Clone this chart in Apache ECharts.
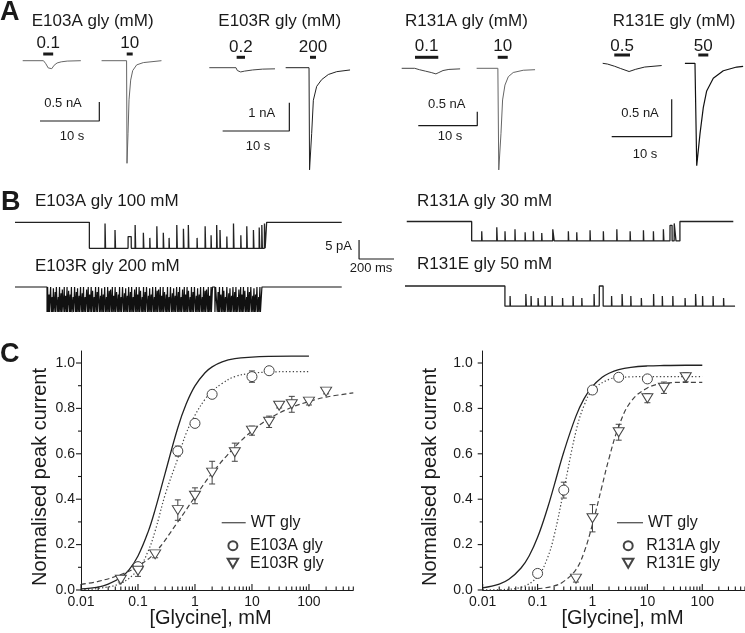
<!DOCTYPE html>
<html><head><meta charset="utf-8">
<script src="https://cdn.jsdelivr.net/npm/echarts@6/dist/echarts.min.js"></script>
<style>html,body{margin:0;padding:0;background:#fff}#c{width:745px;height:633px}</style>
</head><body><div id="c"></div>
<script>
// ================= DATA =================
// ---- Panel A: whole-cell currents (time in s, current in nA) ----
const aE103A_low  = [[0,0],[3.5,0],[3.9,-0.08],[4.3,-0.19],[4.6,-0.23],[4.9,-0.21],[5.3,-0.12],[5.8,-0.06],[6.5,-0.03],[7.5,-0.01],[9.8,0]];
const aE103A_high = [[13.3,0],[17.52,0],[17.59,-2.7],[17.76,-1.91],[17.93,-1.03],[18.21,-0.51],[18.55,-0.26],[19.22,-0.11],[20.34,-0.05],[23.4,0]];
const aE103R_low  = [[0,0],[4.0,0],[4.2,-0.1],[4.4,-0.16],[4.7,-0.15],[5.3,-0.12],[6.5,-0.08],[8,-0.05],[9.85,-0.04]];
const aE103R_high = [[11.45,0],[14.95,0],[15.03,-3.61],[15.35,-2.32],[15.6,-1.15],[16.1,-0.66],[16.85,-0.42],[17.85,-0.24],[19.1,-0.14],[21.1,-0.08]];
const aR131A_low  = [[0,0],[2.2,0],[3,-0.05],[4,-0.1],[5,-0.15],[5.8,-0.2],[6.3,-0.15],[7,-0.08],[8,-0.04],[9.9,-0.02]];
const aR131A_high = [[12.7,0],[16.3,0],[16.45,-3.63],[16.83,-2.32],[17.1,-1.13],[17.5,-0.6],[18.07,-0.3],[18.9,-0.15],[20.6,-0.07],[22.6,-0.05]];
const aR131E_low  = [[0,0],[0.8,-0.01],[2,-0.04],[3,-0.07],[4.4,-0.11],[5.5,-0.08],[7,-0.05],[9.83,-0.03]];
const aR131E_high = [[13.7,0],[15.38,0],[15.67,-1.37],[16.22,-0.94],[16.77,-0.59],[17.33,-0.37],[18.43,-0.2],[20.1,-0.1],[22.33,-0.05],[23.4,-0.04]];
// glycine application periods [start s, end s] and their labels (mM)
const appE103A = [[3.46,5.14],[17.54,18.55]]; const appE103A_lab = ['0.1','10'];
const appE103R = [[4.1,5.35],[15.1,16.0]];    const appE103R_lab = ['0.2','200'];
const appR131A = [[2.25,6.2],[16.27,17.97]];  const appR131A_lab = ['0.1','10'];
const appR131E = [[1.93,4.55],[15.93,17.6]];  const appR131E_lab = ['0.5','50'];
// scale bars [s, nA]
const sbE103A = [10, 0.5]; const sbE103R = [10, 1]; const sbR131A = [10, 0.5]; const sbR131E = [10, 0.5];

// ---- Panel B: single-channel records (time ms, current pA) ----
// [start, opening, closing, end, open amplitude]
const bE103A_ev = [0, 425, 1438, 1867, -6.84];
const bE103R_ev = [0, 183, 1411, 1867, -6.6];
const bR131A_ev = [10, 381, 1571, 1876, -5.1];
const bR131E_ev = [0, 571, 1886, 1886, -5.3];
// brief closures inside the bursts: [time ms, duration ms, fraction closed]
const bE103A_cl = [[514,3,0.95],[571,3,0.7],[646,18,0.45],[686,3,0.9],[733,3,0.6],[770,2,0.4],[810,3,0.85],[847,3,0.6],[880,2,0.4],[924,3,0.9],[962,3,0.75],[990,3,0.9],[1040,2,0.4],[1086,3,0.85],[1120,2,0.5],[1152,3,0.9],[1171,3,0.7],[1210,2,0.45],[1248,3,0.95],[1290,2,0.5],[1324,3,0.85],[1362,3,0.7],[1395,3,0.8],[1410,3,0.9],[1425,4,0.95]];
const bE103R_cl = [[186,3,1],[194,2,0.7],[203,4,1],[212,2,0.6],[219,3,0.95],[229,2,0.8],[236,5,1],[247,2,0.6],[254,3,1],[263,2,0.75],[270,4,0.9],[281,2,1],[289,3,0.65],[297,2,1],[306,4,0.85],[315,2,0.7],[322,3,1],[332,2,0.6],[340,5,1],[350,2,0.8],[357,3,0.95],[366,2,0.65],[374,4,1],[384,2,0.75],[391,3,1],[400,2,0.6],[409,4,0.9],[418,2,1],[426,3,0.7],[435,2,1],[443,4,0.85],[452,2,0.6],[460,3,1],[469,2,0.8],[477,5,1],[488,2,0.65],[495,3,0.95],[504,2,0.7],[512,4,1],[522,2,0.6],[529,3,1],[538,2,0.85],[546,4,0.9],[556,2,1],[563,3,0.65],[572,2,1],[580,4,0.8],[590,2,0.7],[597,3,1],[606,2,0.6],[614,5,1],[625,2,0.75],[632,3,0.95],[641,2,0.65],[649,4,1],[659,2,0.8],[666,3,1],[675,2,0.6],[683,4,0.9],[693,2,1],[700,3,0.7],[709,2,1],[717,4,0.85],[727,2,0.6],[734,3,1],[743,2,0.8],[751,5,1],[762,2,0.65],[769,3,0.95],[778,2,0.7],[786,4,1],[796,2,0.6],[803,3,1],[812,2,0.85],[820,4,0.9],[830,2,1],[837,3,0.65],[846,2,1],[854,4,0.8],[864,2,0.7],[871,3,1],[880,2,0.6],[888,5,1],[899,2,0.75],[906,3,0.95],[915,2,0.65],[923,4,1],[933,2,0.8],[940,3,1],[949,2,0.6],[957,4,0.9],[967,2,1],[974,3,0.7],[983,2,1],[991,4,0.85],[1001,2,0.6],[1008,3,1],[1017,2,0.8],[1025,5,1],[1036,2,0.65],[1043,3,0.95],[1052,2,0.7],[1060,4,1],[1070,2,0.6],[1077,3,1],[1086,2,0.85],[1094,4,0.9],[1104,2,1],[1111,3,0.65],[1120,2,1],[1128,14,1],[1146,9,1],[1160,3,0.8],[1168,2,1],[1176,4,0.7],[1186,2,1],[1193,3,0.85],[1202,2,0.6],[1210,5,1],[1221,2,0.75],[1228,3,0.95],[1237,2,0.65],[1245,4,1],[1255,2,0.8],[1262,3,1],[1271,2,0.6],[1279,4,0.9],[1289,2,1],[1296,3,0.7],[1305,2,1],[1313,4,0.85],[1323,2,0.6],[1330,3,1],[1339,2,0.8],[1347,5,1],[1358,2,0.65],[1365,3,0.95],[1374,2,0.7],[1382,4,1],[1392,2,0.6],[1399,3,1]];
const bR131A_cl = [[438,2,0.5],[524,3,0.7],[571,2,0.5],[628,2,0.6],[686,2,0.45],[733,2,0.5],[781,2,0.4],[844,8,0.6],[933,2,0.5],[981,2,0.45],[1057,2,0.55],[1133,2,0.5],[1210,2,0.6],[1286,2,0.5],[1362,2,0.55],[1419,2,0.5],[1476,3,0.6],[1514,12,0.8],[1538,10,0.9]];
const bR131E_cl = [[600,2,0.5],[690,3,0.6],[720,2,0.5],[760,3,0.4],[800,2,0.5],[840,2,0.5],[900,2,0.4],[960,2,0.5],[1010,2,0.4],[1080,2,0.6],[1110,22,1.0],[1180,2,0.5],[1240,3,0.6],[1290,2,0.5],[1350,2,0.4],[1420,2,0.6],[1470,2,0.5],[1530,2,0.5],[1600,2,0.4],[1660,3,0.6],[1700,2,0.5],[1760,2,0.5],[1820,2,0.4]];
const sbB = [200, 5]; // ms, pA

// ---- Panel C: dose-response (glycine mM, normalised peak current) ----
const concE103A = [0.1, 0.5, 1, 2, 10, 20];
const respE103A = [0.103, 0.612, 0.734, 0.862, 0.94, 0.966];
const semE103A  = [0.015, 0.022, 0.01, 0.01, 0.025, 0.01];
const concE103R = [0.05, 0.1, 0.2, 0.5, 1, 2, 5, 10, 20, 30, 50, 100, 200];
const respE103R = [0.045, 0.085, 0.157, 0.352, 0.415, 0.517, 0.607, 0.702, 0.741, 0.812, 0.818, 0.83, 0.874];
const semE103R  = [0.01, 0.025, 0.015, 0.045, 0.035, 0.05, 0.04, 0.02, 0.025, 0.01, 0.035, 0.015, 0.01];
const concR131A = [0.1, 0.3, 1, 3, 10];
const respR131A = [0.073, 0.44, 0.881, 0.937, 0.93];
const semR131A  = [0.005, 0.035, 0.015, 0.01, 0.01];
const concR131E = [0.5, 1, 3, 10, 20, 50];
const respR131E = [0.05, 0.316, 0.695, 0.845, 0.891, 0.937];
const semR131E  = [0.015, 0.06, 0.035, 0.02, 0.025, 0.02];
// fitted curves
const fitWT_L_x = [0.01,0.02,0.03,0.05,0.07,0.1,0.15,0.2,0.3,0.5,0.7,1,1.5,2,3,5,10,20,50,100];
const fitWT_L_y = [0.005,0.013,0.026,0.055,0.09,0.15,0.255,0.354,0.515,0.715,0.819,0.899,0.957,0.983,1.005,1.019,1.026,1.029,1.03,1.03];
const fitE103A_x = [0.01,0.02,0.05,0.1,0.15,0.2,0.3,0.5,0.7,1,1.5,2,3,5,10,20,50,100];
const fitE103A_y = [0.002,0.007,0.03,0.09,0.17,0.26,0.42,0.58,0.69,0.77,0.84,0.875,0.91,0.94,0.955,0.96,0.962,0.962];
const fitE103R_x = [0.01,0.02,0.05,0.1,0.2,0.5,1,2,5,10,20,50,100,200,600];
const fitE103R_y = [0.025,0.038,0.068,0.105,0.165,0.30,0.41,0.515,0.63,0.70,0.755,0.805,0.83,0.85,0.868];
const fitWT_R_x = [0.01,0.02,0.03,0.05,0.07,0.1,0.15,0.2,0.3,0.5,0.7,1,1.5,2,3,5,10,20,50,100];
const fitWT_R_y = [0.0095,0.026,0.047,0.097,0.15,0.232,0.357,0.46,0.608,0.766,0.842,0.897,0.937,0.955,0.971,0.981,0.987,0.989,0.99,0.99];
const fitR131A_x = [0.01,0.02,0.05,0.1,0.15,0.2,0.3,0.5,0.7,1,2,3,5,10,100];
const fitR131A_y = [0.0003,0.0016,0.012,0.059,0.139,0.239,0.44,0.699,0.812,0.88,0.928,0.935,0.939,0.94,0.94];
const fitR131E_x = [0.1,0.2,0.3,0.5,0.7,1,1.5,2,3,5,10,20,50,100];
const fitR131E_y = [0.005,0.018,0.038,0.09,0.165,0.29,0.46,0.58,0.72,0.83,0.89,0.91,0.915,0.915];
// axis ticks
const xTickVals = [0.01, 0.1, 1, 10, 100];
const xTickLabels = ['0.01', '0.1', '1', '10', '100'];
const xMax = 600;
const yMax = 1.053;
const yTickVals = [0, 0.2, 0.4, 0.6, 0.8, 1.0];
const yTickLabels = ['0.0', '0.2', '0.4', '0.6', '0.8', '1.0'];
const yMinorVals = [0.1, 0.3, 0.5, 0.7, 0.9];

// ================= BUILD =================
const FONT = "'Liberation Sans', Arial, Helvetica, sans-serif";
const INK = '#1a1a1a';
const TRACE = '#444';
const grids = [], xAxes = [], yAxes = [], series = [], graphics = [];

function traceGrid(L, right, top, bottom, y0, pxs, pxa) {
  const gi = grids.length;
  grids.push({left: L, top: top, width: right - L, height: bottom - top});
  xAxes.push({type: 'value', gridIndex: gi, min: 0, max: (right - L) / pxs, show: false});
  yAxes.push({type: 'value', gridIndex: gi, min: -(bottom - y0) / pxa, max: (y0 - top) / pxa, show: false});
  return {x: xAxes.length - 1, y: yAxes.length - 1};
}
function lineS(ax, data, opt) {
  series.push(Object.assign({type: 'line', xAxisIndex: ax.x, yAxisIndex: ax.y, data: data,
    symbol: 'none', showSymbol: false, silent: true, animation: false,
    lineStyle: {color: TRACE, width: 1}}, opt || {}));
}
function appBars(ax, apps, labels, barOff, labOff) {
  series.push({type: 'custom', xAxisIndex: ax.x, yAxisIndex: ax.y, data: apps, silent: true, animation: false, clip: false,
    renderItem: function (params, api) {
      const a = api.coord([api.value(0), 0]), b = api.coord([api.value(1), 0]);
      const y = a[1] - barOff;
      return {type: 'group', children: [
        {type: 'line', shape: {x1: a[0], y1: y, x2: b[0], y2: y}, style: {stroke: INK, lineWidth: 3}},
        {type: 'text', style: {text: labels[params.dataIndex], x: (a[0] + b[0]) / 2, y: y - labOff,
          align: 'center', verticalAlign: 'middle', font: '17px ' + FONT, fill: INK}}
      ]};
    }});
}
function scaleBar(ax, t0, i0, sb) {
  lineS(ax, [[t0, i0], [t0 + sb[0], i0], [t0 + sb[0], i0 + sb[1]]], {lineStyle: {color: INK, width: 1.2}});
}
function channelTrace(ev, closures) {
  const [t0, tOpen, tClose, tEnd, amp] = ev;
  const pts = [[t0, 0], [tOpen, 0], [tOpen, amp]];
  closures.forEach(function (c) {
    const lvl = amp * (1 - c[2]);
    pts.push([c[0], amp], [c[0] + 0.5, lvl], [c[0] + c[1], lvl], [c[0] + c[1] + 0.5, amp]);
  });
  pts.push([tClose, amp]);
  if (tEnd > tClose) { pts.push([tClose, 0], [tEnd, 0]); }
  return pts;
}
function txt(x, y, s, size, opt) {
  graphics.push(Object.assign({type: 'text', x: x, y: y, silent: true,
    style: Object.assign({text: s, font: (size || 17) + 'px ' + FONT, fill: INK, align: 'left', verticalAlign: 'middle'}, (opt && opt.style) || {})},
    opt && opt.rotation ? {rotation: opt.rotation} : {}));
}

// ---- Panel A ----
const gA1 = traceGrid(22.7, 170, 35, 178, 60.7, 5.93, 38);
lineS(gA1, aE103A_low, {lineStyle: {color: '#666', width: 1}}); lineS(gA1, aE103A_high, {lineStyle: {color: '#666', width: 1}});
appBars(gA1, appE103A, appE103A_lab, 6.7, 10.7);
scaleBar(gA1, 2.92, -1.587, sbE103A);
const gA2 = traceGrid(209.3, 360, 35, 178, 67.7, 6.67, 28.3);
lineS(gA2, aE103R_low); lineS(gA2, aE103R_high, {lineStyle: {color: '#222', width: 1}});
appBars(gA2, appE103R, appE103R_lab, 10.4, 9.6);
scaleBar(gA2, 2.0, -2.237, sbE103R);
const gA3 = traceGrid(401.7, 545, 35, 178, 68.3, 5.9, 28);
lineS(gA3, aR131A_low); lineS(gA3, aR131A_high, {lineStyle: {color: '#666', width: 1}});
appBars(gA3, appR131A, appR131A_lab, 11, 10.6);
scaleBar(gA3, 2.81, -2.05, sbR131A);
const gA4 = traceGrid(602.7, 745, 35, 178, 63.3, 6.0, 74.8);
lineS(gA4, aR131E_low, {lineStyle: {color: '#222', width: 1}}); lineS(gA4, aR131E_high, {lineStyle: {color: '#111', width: 1.2}});
appBars(gA4, appR131E, appR131E_lab, 8.3, 8.3);
scaleBar(gA4, 1.5, -0.981, sbR131E);

// ---- Panel B ----
const gB1 = traceGrid(15, 396, 205, 262, 222.3, 0.175, 3.8);
lineS(gB1, channelTrace(bE103A_ev, bE103A_cl), {lineStyle: {color: '#222', width: 1.3}});
lineS(gB1, [[1966, -4.66], [1966, -4.66 - sbB[1]], [1966 + sbB[0], -4.66 - sbB[1]]], {lineStyle: {color: INK, width: 1.2}});
const gB2 = traceGrid(15, 345, 275, 318, 287, 0.175, 3.8);
lineS(gB2, channelTrace(bE103R_ev, bE103R_cl), {lineStyle: {color: '#111', width: 1.2}});
const gB3 = traceGrid(405, 745, 205, 250, 221.5, 0.175, 3.8);
lineS(gB3, channelTrace(bR131A_ev, bR131A_cl), {lineStyle: {color: '#222', width: 1.3}});
const gB4 = traceGrid(405, 745, 270, 318, 286, 0.175, 3.8);
lineS(gB4, channelTrace(bR131E_ev, bR131E_cl), {lineStyle: {color: '#222', width: 1.3}});

// ---- Panel C ----
const lg = Math.log10;
const minorVals = [];
for (let d = -2; d <= 2; d++) for (let k = 2; k <= 9; k++) { const v = k * Math.pow(10, d); if (v <= xMax) minorVals.push(v); }

function doseGrid(left, width, yLabMargin) {
  const gi = grids.length;
  grids.push({left: left, top: 590 - yMax * 227, width: width, height: yMax * 227});
  xAxes.push({type: 'value', gridIndex: gi, min: -2, max: lg(xMax), interval: 1,
    axisLine: {show: true, onZero: false, lineStyle: {color: INK, width: 1}},
    axisTick: {show: false},
    axisLabel: {show: true, showMaxLabel: false, margin: 5, fontSize: 14, fontFamily: FONT, color: INK,
      formatter: function (v) { const i = xTickVals.findIndex(function (t) { return Math.abs(lg(t) - v) < 1e-6; }); return i < 0 ? '' : xTickLabels[i]; }},
    splitLine: {show: false}});
  yAxes.push({type: 'value', gridIndex: gi, min: 0, max: yMax, interval: 0.2,
    axisLine: {show: true, onZero: false, lineStyle: {color: INK, width: 1}},
    axisTick: {show: false},
    axisLabel: {show: true, showMaxLabel: false, margin: yLabMargin, fontSize: 14, fontFamily: FONT, color: INK,
      formatter: function (v) { const i = yTickVals.findIndex(function (t) { return Math.abs(t - v) < 1e-6; }); return i < 0 ? '' : yTickLabels[i]; }},
    splitLine: {show: false}});
  const ax = {x: xAxes.length - 1, y: yAxes.length - 1};
  // tick marks placed through the axes' own scales: [x, y, kind]
  const ticks = [];
  xTickVals.forEach(function (v) { ticks.push([lg(v), 0, 0]); });
  minorVals.forEach(function (v) { ticks.push([lg(v), 0, 1]); });
  yTickVals.forEach(function (v) { ticks.push([-2, v, 2]); });
  yMinorVals.forEach(function (v) { ticks.push([-2, v, 3]); });
  series.push({type: 'custom', xAxisIndex: ax.x, yAxisIndex: ax.y, data: ticks,
    encode: {x: 0, y: 1}, dimensions: ['x', 'y', 'kind'],
    silent: true, animation: false, clip: false, z: 10,
    renderItem: function (params, api) {
      const p = api.coord([api.value(0), api.value(1)]);
      const k = ticks[params.dataIndex][2];
      const len = [6, 3.5, 5, 3][k];
      const sh = k < 2 ? {x1: p[0], y1: p[1], x2: p[0], y2: p[1] - len} : {x1: p[0], y1: p[1], x2: p[0] - len, y2: p[1]};
      return {type: 'group', children: [{type: 'line', shape: sh, style: {stroke: INK, lineWidth: 1.1}}]};
    }});
  return ax;
}
function fitLine(ax, xs, ys, name, type) {
  series.push({type: 'line', name: name, xAxisIndex: ax.x, yAxisIndex: ax.y,
    data: xs.map(function (x, i) { return [lg(x), ys[i]]; }), smooth: 0.4,
    symbol: 'none', showSymbol: false, silent: true, animation: false, z: 3,
    lineStyle: {color: type === 'solid' ? '#222' : '#444', width: type === 'solid' ? 1.3 : 1.2,
      type: type === 'dotted' ? [1.3, 2.2] : (type === 'dashed' ? [5, 3] : 'solid')}});
}
function points(ax, xs, ys, es, name, tri) {
  const d = xs.map(function (x, i) { return [lg(x), ys[i], es[i]]; });
  series.push({type: 'custom', xAxisIndex: ax.x, yAxisIndex: ax.y, data: d, silent: true, animation: false, z: 4,
    renderItem: function (params, api) {
      const x = api.value(0), y = api.value(1), e = api.value(2);
      const t = api.coord([x, y + e]), b = api.coord([x, y - e]);
      const st = {stroke: '#444', lineWidth: 1};
      return {type: 'group', children: [
        {type: 'line', shape: {x1: t[0], y1: t[1], x2: b[0], y2: b[1]}, style: st},
        {type: 'line', shape: {x1: t[0] - 3, y1: t[1], x2: t[0] + 3, y2: t[1]}, style: st},
        {type: 'line', shape: {x1: b[0] - 3, y1: b[1], x2: b[0] + 3, y2: b[1]}, style: st}]};
    }});
  series.push({type: 'scatter', name: name, xAxisIndex: ax.x, yAxisIndex: ax.y, data: d.map(function (p) { return [p[0], p[1]]; }),
    symbol: tri ? 'triangle' : 'circle', symbolSize: tri ? [11, 9] : 10, symbolRotate: tri ? 180 : 0,
    itemStyle: {color: '#ffffff', opacity: 1, borderColor: '#444', borderWidth: 1}, silent: true, animation: false, z: 5});
}

const gC1 = doseGrid(81, 272.3, 6);
fitLine(gC1, fitWT_L_x, fitWT_L_y, 'WT gly L', 'solid');
fitLine(gC1, fitE103A_x, fitE103A_y, 'fitE103A', 'dotted');
fitLine(gC1, fitE103R_x, fitE103R_y, 'fitE103R', 'dashed');
points(gC1, concE103A, respE103A, semE103A, 'E103A gly', false);
points(gC1, concE103R, respE103R, semE103R, 'E103R gly', true);

const gC2 = doseGrid(482.7, 262.8, 10);
fitLine(gC2, fitWT_R_x, fitWT_R_y, 'WT gly R', 'solid');
fitLine(gC2, fitR131A_x, fitR131A_y, 'fitR131A', 'dotted');
fitLine(gC2, fitR131E_x, fitR131E_y, 'fitR131E', 'dashed');
points(gC2, concR131A, respR131A, semR131A, 'R131A gly', false);
points(gC2, concR131E, respR131E, semR131E, 'R131E gly', true);

// ---- texts ----
const boldLetter = {style: {font: 'bold 27px ' + FONT}};
txt(0, 13, 'A', 27, boldLetter); txt(1, 203, 'B', 27, boldLetter); txt(0, 355, 'C', 27, boldLetter);
txt(31.7, 21.7, 'E103A gly (mM)'); txt(218.3, 21.7, 'E103R gly (mM)');
txt(405, 21.7, 'R131A gly (mM)'); txt(612.7, 21.7, 'R131E gly (mM)');
const cen = {style: {align: 'center'}};
txt(63, 103.7, '0.5 nA', 13, cen); txt(72, 136.7, '10 s', 13, cen);
txt(261.7, 113.3, '1 nA', 13, cen); txt(258, 146.7, '10 s', 13, cen);
txt(446.7, 104.3, '0.5 nA', 13, cen); txt(450, 136.7, '10 s', 13, cen);
txt(640, 113.3, '0.5 nA', 13, cen); txt(645, 154, '10 s', 13, cen);
txt(35, 201.7, 'E103A gly 100 mM'); txt(35, 266, 'E103R gly 200 mM');
txt(417, 201, 'R131A gly 30 mM'); txt(417, 264, 'R131E gly 50 mM');
txt(352, 246.5, '5 pA', 13, {style: {align: 'right'}}); txt(371, 268.5, '200 ms', 13, cen);
txt(40, 477, 'Normalised peak current', 20, {style: {align: 'center'}, rotation: Math.PI / 2});
txt(430, 477, 'Normalised peak current', 20, {style: {align: 'center'}, rotation: Math.PI / 2});
txt(210.5, 618.3, '[Glycine], mM', 20, cen);
txt(622.5, 618.3, '[Glycine], mM', 20, cen);
// WT legend entries (line samples)
graphics.push({type: 'line', silent: true, shape: {x1: 221.7, y1: 522.7, x2: 245.7, y2: 522.7}, style: {stroke: '#555', lineWidth: 1.3}});
txt(250.7, 522.7, 'WT gly', 16);
graphics.push({type: 'line', silent: true, shape: {x1: 617, y1: 522.7, x2: 643, y2: 522.7}, style: {stroke: '#555', lineWidth: 1.3}});
txt(648, 522.7, 'WT gly', 16);

const triIcon = 'path://M0,0L10,0L5,8.66Z';
const legendBase = {orient: 'vertical', top: 532.7, itemWidth: 24, itemHeight: 9, itemGap: 1.5, selectedMode: false,
  textStyle: {fontSize: 16, fontFamily: FONT, color: INK, lineHeight: 16}};
const chart = echarts.init(document.getElementById('c'), null, {renderer: 'canvas'});
chart.setOption({
  animation: false,
  backgroundColor: '#fff',
  textStyle: {fontFamily: FONT},
  grid: grids, xAxis: xAxes, yAxis: yAxes, series: series,
  legend: [
    Object.assign({}, legendBase, {left: 221.7, data: [{name: 'E103A gly', icon: 'circle'}, {name: 'E103R gly', icon: triIcon}]}),
    Object.assign({}, legendBase, {left: 617, itemWidth: 26, data: [{name: 'R131A gly', icon: 'circle'}, {name: 'R131E gly', icon: triIcon}]})
  ],
  graphic: graphics
});
</script></body></html>
